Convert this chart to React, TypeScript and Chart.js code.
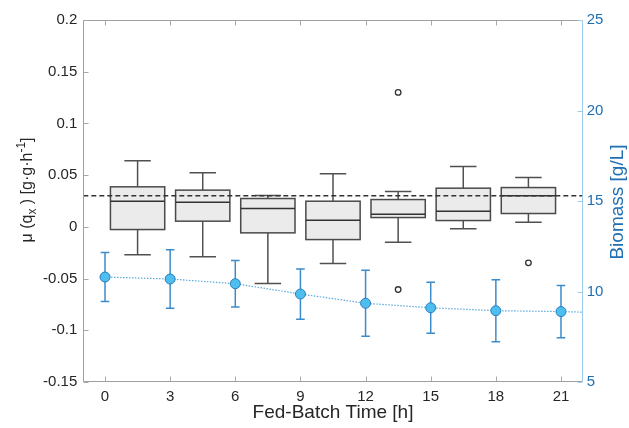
import { useEffect, useRef } from "react";
import { Chart, registerables } from "chart.js";

Chart.register(...registerables);

// ---- data ----
const timeTicks = [0, 3, 6, 9, 12, 15, 18, 21];
const rateTicks = [-0.15, -0.1, -0.05, 0, 0.05, 0.1, 0.15, 0.2];
const rateTickLabels = ["-0.15", "-0.1", "-0.05", "0", "0.05", "0.1", "0.15", "0.2"];
const biomassTicks = [5, 10, 15, 20, 25];

const sampleTimes = [0, 3, 6, 9, 12, 15, 18, 21];
const biomassMean = [10.8, 10.69, 10.43, 9.86, 9.35, 9.1, 8.94, 8.89];
const biomassSd = [1.35, 1.62, 1.28, 1.39, 1.82, 1.41, 1.71, 1.44];

const trendTimes = [0, 3, 6, 9, 12, 15, 18, 21, 22];
const trendBiomass = [10.8, 10.69, 10.43, 9.86, 9.35, 9.1, 8.94, 8.89, 8.86];

const boxTimes = [1.5, 4.5, 7.5, 10.5, 13.5, 16.5, 19.5];
const whiskerLow = [-0.027, -0.029, -0.0548, -0.0355, -0.0148, -0.0019, 0.0045];
const quartile1 = [-0.0026, 0.0055, -0.0058, -0.0123, 0.009, 0.0061, 0.0129];
const medians = [0.0248, 0.0239, 0.0177, 0.0065, 0.0123, 0.0152, 0.03];
const quartile3 = [0.0387, 0.0355, 0.0274, 0.0248, 0.0264, 0.0374, 0.038];
const whiskerHigh = [0.0638, 0.0522, 0.0303, 0.0513, 0.0341, 0.0583, 0.0477];
const outlierTimes = [13.5, 13.5, 19.5];
const outlierRates = [0.13, -0.0606, -0.0348];
const referenceRate = 0.03;

const FONT = "'Liberation Sans', Arial, Helvetica, sans-serif";
const TEXT = "#262626";
const BLUE = "#1f6fb2";

const boxPlugin = {
  id: "boxes",
  beforeDatasetsDraw(chart: any) {
    const { ctx, chartArea } = chart;
    const x = chart.scales.x;
    const y = chart.scales.y;
    const y2 = chart.scales.y2;
    ctx.save();
    ctx.beginPath();
    ctx.rect(chartArea.left, chartArea.top, chartArea.right - chartArea.left, chartArea.bottom - chartArea.top);
    ctx.clip();
    const halfBox = 1.25;
    const halfCap = 0.61;
    for (let i = 0; i < boxTimes.length; i++) {
      const t = boxTimes[i];
      const xl = x.getPixelForValue(t - halfBox);
      const xr = x.getPixelForValue(t + halfBox);
      const xc = x.getPixelForValue(t);
      const cl = x.getPixelForValue(t - halfCap);
      const cr = x.getPixelForValue(t + halfCap);
      const yq1 = y.getPixelForValue(quartile1[i]);
      const yq3 = y.getPixelForValue(quartile3[i]);
      const ymed = y.getPixelForValue(medians[i]);
      const ylo = y.getPixelForValue(whiskerLow[i]);
      const yhi = y.getPixelForValue(whiskerHigh[i]);
      ctx.strokeStyle = "#505050";
      ctx.lineWidth = 1.5;
      ctx.beginPath();
      ctx.moveTo(xc, yq3);
      ctx.lineTo(xc, yhi);
      ctx.moveTo(cl, yhi);
      ctx.lineTo(cr, yhi);
      ctx.moveTo(xc, yq1);
      ctx.lineTo(xc, ylo);
      ctx.moveTo(cl, ylo);
      ctx.lineTo(cr, ylo);
      ctx.stroke();
      ctx.fillStyle = "#ebebeb";
      ctx.fillRect(xl, yq3, xr - xl, yq1 - yq3);
      ctx.strokeStyle = "#4a4a4a";
      ctx.strokeRect(xl, yq3, xr - xl, yq1 - yq3);
      ctx.strokeStyle = "#333333";
      ctx.beginPath();
      ctx.moveTo(xl, ymed);
      ctx.lineTo(xr, ymed);
      ctx.stroke();
    }
    const yr = y.getPixelForValue(referenceRate);
    ctx.strokeStyle = "#333333";
    ctx.lineWidth = 1.5;
    ctx.setLineDash([5, 3]);
    ctx.beginPath();
    ctx.moveTo(chartArea.left, yr);
    ctx.lineTo(chartArea.right, yr);
    ctx.stroke();
    ctx.setLineDash([]);
    ctx.strokeStyle = "#3b8ccc";
    ctx.lineWidth = 1.5;
    for (let i = 0; i < sampleTimes.length; i++) {
      const px = x.getPixelForValue(sampleTimes[i]);
      const top = y2.getPixelForValue(biomassMean[i] + biomassSd[i]);
      const bot = y2.getPixelForValue(biomassMean[i] - biomassSd[i]);
      ctx.beginPath();
      ctx.moveTo(px, top);
      ctx.lineTo(px, bot);
      ctx.moveTo(px - 4.3, top);
      ctx.lineTo(px + 4.3, top);
      ctx.moveTo(px - 4.3, bot);
      ctx.lineTo(px + 4.3, bot);
      ctx.stroke();
    }
    ctx.restore();
  },
  afterDraw(chart: any) {
    const { ctx, chartArea } = chart;
    const { left, right, top, bottom } = chartArea;
    const x = chart.scales.x;
    const y = chart.scales.y;
    const y2 = chart.scales.y2;
    ctx.save();
    const L = Math.round(left) + 0.5;
    const R = Math.round(right) - 0.5;
    const T = Math.round(top) + 0.5;
    const B = Math.round(bottom) - 0.5;
    ctx.lineWidth = 1;
    ctx.strokeStyle = "#a0a0a0";
    ctx.beginPath();
    ctx.moveTo(R, T);
    ctx.lineTo(L, T);
    ctx.lineTo(L, B);
    ctx.lineTo(R, B);
    ctx.stroke();
    ctx.strokeStyle = "#9fcbea";
    ctx.beginPath();
    ctx.moveTo(R, T);
    ctx.lineTo(R, B);
    ctx.stroke();
    ctx.strokeStyle = "#a8a8a8";
    ctx.beginPath();
    for (const v of timeTicks) {
      const px = Math.round(x.getPixelForValue(v)) + 0.5;
      ctx.moveTo(px, B);
      ctx.lineTo(px, B - 5);
      ctx.moveTo(px, T);
      ctx.lineTo(px, T + 5);
    }
    for (const v of rateTicks) {
      const py = Math.round(y.getPixelForValue(v)) + 0.5;
      ctx.moveTo(L, py);
      ctx.lineTo(L + 5, py);
    }
    ctx.stroke();
    ctx.strokeStyle = "#9fcbea";
    ctx.beginPath();
    for (const v of biomassTicks) {
      const py = Math.round(y2.getPixelForValue(v)) + 0.5;
      ctx.moveTo(R, py);
      ctx.lineTo(R - 5, py);
    }
    ctx.stroke();

    // left title with sub/superscript
    const big = `16px ${FONT}`;
    const small = `12px ${FONT}`;
    const parts: [string, string, number][] = [
      ["\u03bc (q", big, 0],
      ["x", small, 5],
      [" ) [g\u00b7g\u00b7h", big, 0],
      ["-1", small, -6],
      ["]", big, 0],
    ];
    let total = 0;
    for (const [s, f] of parts) {
      ctx.font = f;
      total += ctx.measureText(s).width;
    }
    ctx.translate(28, 190);
    ctx.rotate(-Math.PI / 2);
    ctx.fillStyle = TEXT;
    ctx.textBaseline = "middle";
    ctx.textAlign = "left";
    let cx = -total / 2;
    for (const [s, f, dy] of parts) {
      ctx.font = f;
      ctx.fillText(s, cx, dy);
      cx += ctx.measureText(s).width;
    }
    ctx.setTransform(1, 0, 0, 1, 0, 0);
    ctx.translate(618, 202);
    ctx.rotate(-Math.PI / 2);
    ctx.font = `19px ${FONT}`;
    ctx.fillStyle = BLUE;
    ctx.textAlign = "center";
    ctx.textBaseline = "middle";
    ctx.fillText("Biomass [g/L]", 0, 0);
    ctx.restore();
  },
};

export default function App() {
  const ref = useRef<HTMLCanvasElement | null>(null);
  useEffect(() => {
    if (!ref.current) return;
    const chart = new Chart(ref.current, {
      type: "line",
      data: {
        datasets: [
          {
            label: "Biomass",
            data: sampleTimes.map((t, i) => ({ x: t, y: biomassMean[i] })),
            yAxisID: "y2",
            showLine: false,
            pointRadius: 5,
            pointBackgroundColor: "#4dbeee",
            pointBorderColor: "#2a7dbf",
            pointBorderWidth: 1,
          },
          {
            label: "Trend",
            data: trendTimes.map((t, i) => ({ x: t, y: trendBiomass[i] })),
            yAxisID: "y2",
            borderColor: "#5aa8dc",
            borderWidth: 1.2,
            borderDash: [1.5, 1.5],
            pointRadius: 0,
            fill: false,
          },
          {
            label: "Outliers",
            data: outlierTimes.map((t, i) => ({ x: t, y: outlierRates[i] })),
            yAxisID: "y",
            showLine: false,
            pointRadius: 2.8,
            pointBackgroundColor: "rgba(255,255,255,1)",
            pointBorderColor: "#333333",
            pointBorderWidth: 1.3,
          },
        ],
      },
      options: {
        animation: false,
        responsive: false,
        layout: { padding: { top: 20, left: 0, right: 0, bottom: 0 } },
        plugins: { legend: { display: false }, tooltip: { enabled: false } },
        scales: {
          x: {
            type: "linear",
            min: -1,
            max: 22,
            afterBuildTicks: (s: any) => {
              s.ticks = timeTicks.map((v) => ({ value: v }));
            },
            afterFit: (s: any) => {
              s.height = 46;
            },
            grid: { display: false, drawTicks: false },
            border: { display: false },
            ticks: {
              padding: 6,
              color: TEXT,
              font: { family: FONT, size: 15 },
              callback: (v: any) => String(v),
              maxRotation: 0,
            },
            title: {
              display: true,
              text: "Fed-Batch Time [h]",
              color: TEXT,
              font: { family: FONT, size: 19 },
              padding: { top: 0, bottom: 4 },
            },
          },
          y: {
            type: "linear",
            position: "left",
            min: -0.15,
            max: 0.2,
            afterBuildTicks: (s: any) => {
              s.ticks = rateTicks.map((v) => ({ value: v }));
            },
            afterFit: (s: any) => {
              s.width = 83.3;
            },
            grid: { display: false, drawTicks: false },
            border: { display: false },
            ticks: {
              padding: 6,
              color: TEXT,
              font: { family: FONT, size: 15 },
              callback: (v: any) => {
                const idx = rateTicks.findIndex((r) => Math.abs(r - v) < 1e-9);
                return idx >= 0 ? rateTickLabels[idx] : "";
              },
            },
          },
          y2: {
            type: "linear",
            position: "right",
            min: 5,
            max: 25,
            afterBuildTicks: (s: any) => {
              s.ticks = biomassTicks.map((v) => ({ value: v }));
            },
            afterFit: (s: any) => {
              s.width = 46.3;
            },
            grid: { display: false, drawTicks: false },
            border: { display: false },
            ticks: {
              padding: 4,
              color: BLUE,
              font: { family: FONT, size: 15 },
              callback: (v: any) => String(v),
            },
          },
        },
      },
      plugins: [boxPlugin],
    });
    return () => chart.destroy();
  }, []);
  return (
    <div style={{ position: "absolute", left: 0, top: 0, width: 629, height: 428, background: "#fff" }}>
      <canvas ref={ref} width={629} height={428} style={{ display: "block" }} />
    </div>
  );
}
